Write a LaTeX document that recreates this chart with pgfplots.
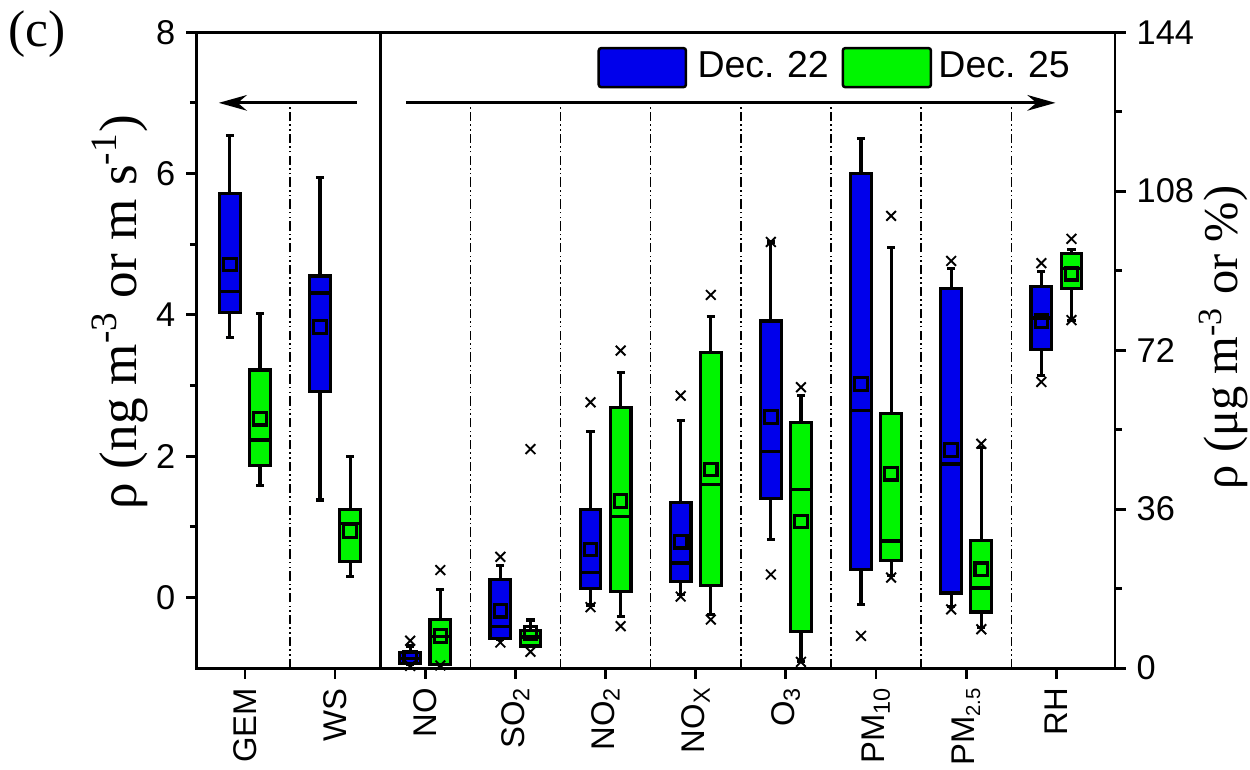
\documentclass[border=0pt]{standalone}
\usepackage{fontspec}
\setmainfont{Liberation Sans}
\newfontfamily\tnr{Liberation Serif}
\usepackage{pgfplots}
\pgfplotsset{compat=1.18}
\usepgfplotslibrary{statistics}
\usetikzlibrary{arrows.meta}

\definecolor{dblue}{RGB}{0,0,235}
\definecolor{dgreen}{RGB}{0,245,0}
\newcommand{\sub}[2][7.5]{\raisebox{-0.3ex}{\fontsize{#1}{8}\selectfont #2}}

\pgfplotsset{
  common/.style={
    scale only axis, width=293.8pt, height=203.5pt,
    at={(0,0)}, anchor=south west,
    xmin=0.467, xmax=10.65,
    /pgf/number format/assume math mode=true,
    tick label style={font=\fontsize{11}{12}\selectfont},
    axis line style={line width=0.9pt},
    tick style={line width=0.9pt, black},
    major tick length=3.4pt, minor tick length=2.2pt,
    tick align=outside,
  },
  bp/.style 2 args={
    boxplot prepared={#1},
    boxplot/draw direction=y,
    fill=#2, draw=black, line width=1pt, solid,
    mark=x, mark size=2.2pt, mark options={line width=0.6pt, solid},
    boxplot/box extend=0.23,
    boxplot/whisker extend=0.09,
    boxplot/every box/.style={line width=1pt},
    boxplot/every whisker/.style={line width=1pt},
    boxplot/every median/.style={line width=1.1pt},
    boxplot/every average/.style={/tikz/mark=square, /tikz/mark size=2pt,
      /tikz/mark options={draw=black, line width=0.5pt, fill=none}},
  },
}

\begin{document}
\begin{tikzpicture}
\path[use as bounding box] (-63pt,-32.3pt) rectangle (337pt,213.8pt);

% left axis: GEM and WS
\begin{axis}[common,
  ymin=-1, ymax=8, ytick={0,2,4,6,8}, minor y tick num=1,
  ytick pos=left, xtick pos=left,
  xtick={1,...,10},
  xticklabels={GEM, WS, NO, SO\sub{2}, NO\sub{2}, NO\sub{X}, O\sub{3}, PM\sub{10}, PM\sub[6.5]{2.5}, RH},
  xticklabel style={rotate=90, anchor=east, font=\fontsize{10.5}{12}\selectfont},
  xticklabel shift=-0.5pt,
  ylabel={\tnr\fontsize{17}{18}\selectfont ρ (ng m\textsuperscript{-3} or m s\textsuperscript{-1})},
  ylabel style={at={(axis description cs:-0.084,0.56)}, anchor=center},
]
% separators
\addplot[black, line width=0.5pt, densely dashdotdotted] coordinates {(1.5,-1)(1.5,7)};
\addplot[black, line width=0.9pt] coordinates {(2.5,-1)(2.5,8)};
\foreach \s in {3.5,4.5,5.5,6.5,7.5,8.5,9.5}{
  \edef\tmp{\noexpand\addplot[black, line width=0.5pt, densely dashdotdotted] coordinates {(\s,-1)(\s,7)};}\tmp
}
\draw[line width=0.9pt, -{Stealth[length=9pt,width=5pt]}] (axis cs:2.24,7) -- (axis cs:0.71,7);
\draw[line width=0.9pt, -{Stealth[length=9pt,width=5pt]}] (axis cs:2.79,7) -- (axis cs:9.99,7);

% GEM
\addplot[bp={draw position=0.833, lower whisker=3.68, lower quartile=4.03, median=4.33, upper quartile=5.72, upper whisker=6.54, average=4.71}{dblue}] coordinates {};
\addplot[bp={draw position=1.167, lower whisker=1.59, lower quartile=1.87, median=2.23, upper quartile=3.22, upper whisker=4.02, average=2.53}{dgreen}] coordinates {};
% WS
\addplot[bp={draw position=1.833, lower whisker=1.38, lower quartile=2.92, median=4.31, upper quartile=4.55, upper whisker=5.94, average=3.83}{dblue}] coordinates {};
\addplot[bp={draw position=2.167, lower whisker=0.30, lower quartile=0.51, median=1.05, upper quartile=1.25, upper whisker=1.99, average=0.94}{dgreen}] coordinates {};
\end{axis}

% right axis: the other species
\begin{axis}[common,
  ymin=0, ymax=144, ytick={0,36,72,108,144}, minor y tick num=1,
  axis y line*=right, axis x line=none,
  ylabel={\tnr\fontsize{15.5}{16}\selectfont ρ (μg m\textsuperscript{-3} or \%)},
  ylabel style={at={(axis description cs:1.118,0.52)}, anchor=center},
]
% NO
\addplot[bp={draw position=2.833, lower whisker=0.8, lower quartile=1.1, median=2.2, upper quartile=3.6, upper whisker=5.0, average=2.4}{dblue}] coordinates {(2.833,6.2)(2.833,0.5)};
\addplot[bp={draw position=3.167, lower whisker=0.8, lower quartile=0.9, median=7.1, upper quartile=11.1, upper whisker=17.9, average=7.3}{dgreen}] coordinates {(3.167,22.2)(3.167,0.6)};
% SO2
\addplot[bp={draw position=3.833, lower whisker=6.5, lower quartile=6.8, median=9.4, upper quartile=20.0, upper whisker=23.3, average=13.0}{dblue}] coordinates {(3.833,25.2)(3.833,5.8)};
\addplot[bp={draw position=4.167, lower whisker=4.8, lower quartile=5.0, median=7.0, upper quartile=8.5, upper whisker=10.9, average=8.0}{dgreen}] coordinates {(4.167,49.6)(4.167,3.7)};
% NO2
\addplot[bp={draw position=4.833, lower whisker=14.3, lower quartile=18.1, median=21.6, upper quartile=36.0, upper whisker=53.6, average=26.9}{dblue}] coordinates {(4.833,60.2)(4.833,13.8)};
\addplot[bp={draw position=5.167, lower whisker=11.6, lower quartile=17.4, median=34.3, upper quartile=59.1, upper whisker=66.9, average=37.8}{dgreen}] coordinates {(5.167,71.9)(5.167,9.5)};
% NOx
\addplot[bp={draw position=5.833, lower whisker=16.7, lower quartile=19.7, median=23.8, upper quartile=37.5, upper whisker=56.0, average=28.6}{dblue}] coordinates {(5.833,61.7)(5.833,16.2)};
\addplot[bp={draw position=6.167, lower whisker=12.2, lower quartile=18.8, median=41.6, upper quartile=71.5, upper whisker=79.6, average=45.0}{dgreen}] coordinates {(6.167,84.5)(6.167,11.0)};
% O3
\addplot[bp={draw position=6.833, lower whisker=29.1, lower quartile=38.4, median=49.1, upper quartile=78.6, upper whisker=96.5, average=56.9}{dblue}] coordinates {(6.833,96.5)(6.833,21.2)};
\addplot[bp={draw position=7.167, lower whisker=1.4, lower quartile=8.3, median=40.5, upper quartile=55.6, upper whisker=61.7, average=33.2}{dgreen}] coordinates {(7.167,63.6)(7.167,1.4)};
% PM10
\addplot[bp={draw position=7.833, lower whisker=14.5, lower quartile=22.4, median=58.3, upper quartile=112.0, upper whisker=119.9, average=64.3}{dblue}] coordinates {(7.833,7.3)};
\addplot[bp={draw position=8.167, lower whisker=21.0, lower quartile=24.3, median=28.8, upper quartile=57.7, upper whisker=95.3, average=44.0}{dgreen}] coordinates {(8.167,102.4)(8.167,20.5)};
% PM2.5
\addplot[bp={draw position=8.833, lower whisker=14.0, lower quartile=17.0, median=46.2, upper quartile=86.0, upper whisker=90.5, average=49.4}{dblue}] coordinates {(8.833,92.2)(8.833,13.3)};
\addplot[bp={draw position=9.167, lower whisker=9.1, lower quartile=12.7, median=18.1, upper quartile=28.9, upper whisker=50.0, average=22.4}{dgreen}] coordinates {(9.167,50.8)(9.167,8.8)};
% RH
\addplot[bp={draw position=9.833, lower whisker=66.2, lower quartile=72.1, median=79.3, upper quartile=86.4, upper whisker=89.8, average=78.6}{dblue}] coordinates {(9.833,91.7)(9.833,64.8)};
\addplot[bp={draw position=10.167, lower whisker=78.8, lower quartile=86.0, median=90.5, upper quartile=93.9, upper whisker=94.8, average=89.3}{dgreen}] coordinates {(10.167,97.2)(10.167,78.8)};
\end{axis}

% legend
\draw[fill=dblue, draw=black, line width=0.8pt, rounded corners=0.8pt] (128.6pt,185.9pt) rectangle (156.5pt,198.4pt);
\node[anchor=west, inner sep=0pt, font=\fontsize{12}{12}\selectfont] at (160pt,193pt) {Dec.\,\,22};
\draw[fill=dgreen, draw=black, line width=0.8pt, rounded corners=0.8pt] (206.7pt,185.9pt) rectangle (234.9pt,198.4pt);
\node[anchor=west, inner sep=0pt, font=\fontsize{12}{12}\selectfont] at (237.1pt,193pt) {Dec.\,\,25};

\node[font=\tnr\fontsize{16.5}{17}\selectfont, inner sep=0pt] at (-51.2pt,203pt) {(c)};
\end{tikzpicture}
\end{document}
